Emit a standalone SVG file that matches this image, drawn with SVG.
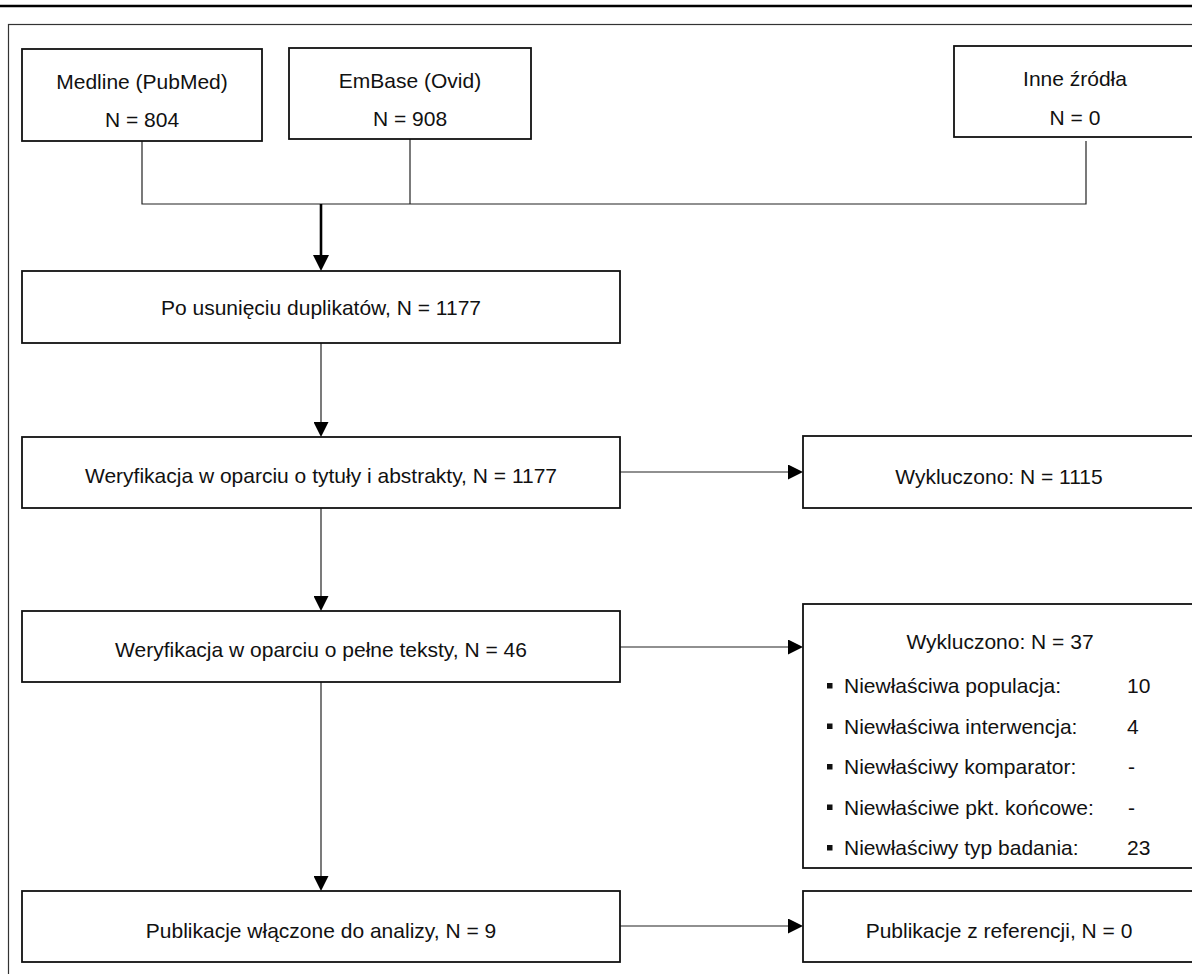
<svg xmlns="http://www.w3.org/2000/svg" width="1192" height="974" viewBox="0 0 1192 974">
<style>
.box{fill:#fff;stroke:#111;stroke-width:1.8}
.conn{fill:none;stroke:#222;stroke-width:1.2}
.thick{fill:none;stroke:#000;stroke-width:2.6}
text{font-family:"Liberation Sans",Arial,sans-serif;font-size:21px;fill:#111}
.c{text-anchor:middle}
.bul{fill:#111}
</style>
<defs>
<marker id="ah" viewBox="0 0 15 15" markerWidth="15" markerHeight="15" refX="0" refY="7.5" orient="auto" markerUnits="userSpaceOnUse"><path d="M0,0L15,7.5L0,15Z" fill="#000"/></marker>
<marker id="ahb" viewBox="0 0 16 16" markerWidth="16" markerHeight="16" refX="0" refY="8" orient="auto" markerUnits="userSpaceOnUse"><path d="M0,0L16,8L0,16Z" fill="#000"/></marker>
</defs>
<rect width="1192" height="974" fill="#fff"/>
<line x1="0" y1="6" x2="1192" y2="6" stroke="#000" stroke-width="2.4"/>
<rect x="8.5" y="24.5" width="1200" height="1000" fill="none" stroke="#333" stroke-width="1.2"/>

<g id="connectors">
<polyline class="conn" points="142,141 142,204 1086,204 1086,141"/>
<line class="conn" x1="410" y1="139" x2="410" y2="204"/>
<line class="thick" x1="321" y1="204" x2="321" y2="255" marker-end="url(#ahb)"/>
<line class="conn" x1="321" y1="343" x2="321" y2="422" marker-end="url(#ah)"/>
<line class="conn" x1="321" y1="508" x2="321" y2="596" marker-end="url(#ah)"/>
<line class="conn" x1="321" y1="682" x2="321" y2="876" marker-end="url(#ah)"/>
<line class="conn" x1="620" y1="472" x2="788" y2="472" marker-end="url(#ah)"/>
<line class="conn" x1="620" y1="647" x2="788" y2="647" marker-end="url(#ah)"/>
<line class="conn" x1="620" y1="926" x2="788" y2="926" marker-end="url(#ah)"/>
</g>

<g id="medline">
<rect class="box" x="22" y="49" width="240" height="92"/>
<text class="c" x="142" y="89">Medline (PubMed)</text>
<text class="c" x="142" y="127">N = 804</text>
</g>
<g id="embase">
<rect class="box" x="289" y="48" width="242" height="91"/>
<text class="c" x="410" y="88">EmBase (Ovid)</text>
<text class="c" x="410" y="126">N = 908</text>
</g>
<g id="inne">
<rect class="box" x="954" y="46" width="250" height="91"/>
<text class="c" x="1075" y="86">Inne źródła</text>
<text class="c" x="1075" y="125">N = 0</text>
</g>
<g id="duplikaty">
<rect class="box" x="22" y="271" width="598" height="72"/>
<text class="c" x="321" y="315">Po usunięciu duplikatów, N = 1177</text>
</g>
<g id="weryfikacja1">
<rect class="box" x="22" y="437" width="598" height="71"/>
<text class="c" x="321" y="483">Weryfikacja w oparciu o tytuły i abstrakty, N = 1177</text>
</g>
<g id="wykluczono1">
<rect class="box" x="803" y="436" width="400" height="72"/>
<text class="c" x="999" y="484">Wykluczono: N = 1115</text>
</g>
<g id="weryfikacja2">
<rect class="box" x="22" y="611" width="598" height="71"/>
<text class="c" x="321" y="657">Weryfikacja w oparciu o pełne teksty, N = 46</text>
</g>
<g id="wykluczono2">
<rect class="box" x="803" y="604" width="400" height="264"/>
<text class="c" x="1000" y="649">Wykluczono: N = 37</text>
<rect class="bul" x="827" y="683" width="5.5" height="5.5"/>
<text x="844" y="693">Niewłaściwa populacja:</text>
<text x="1127" y="693">10</text>
<rect class="bul" x="827" y="723.5" width="5.5" height="5.5"/>
<text x="844" y="733.5">Niewłaściwa interwencja:</text>
<text x="1127" y="733.5">4</text>
<rect class="bul" x="827" y="764" width="5.5" height="5.5"/>
<text x="844" y="774">Niewłaściwy komparator:</text>
<text x="1128" y="774">-</text>
<rect class="bul" x="827" y="804.5" width="5.5" height="5.5"/>
<text x="844" y="814.5">Niewłaściwe pkt. końcowe:</text>
<text x="1128" y="814.5">-</text>
<rect class="bul" x="827" y="845" width="5.5" height="5.5"/>
<text x="844" y="855">Niewłaściwy typ badania:</text>
<text x="1127" y="855">23</text>
</g>
<g id="publikacje">
<rect class="box" x="22" y="891" width="598" height="71"/>
<text class="c" x="321" y="938">Publikacje włączone do analizy, N = 9</text>
</g>
<g id="referencje">
<rect class="box" x="803" y="891" width="400" height="71"/>
<text class="c" x="999" y="938">Publikacje z referencji, N = 0</text>
</g>
</svg>
